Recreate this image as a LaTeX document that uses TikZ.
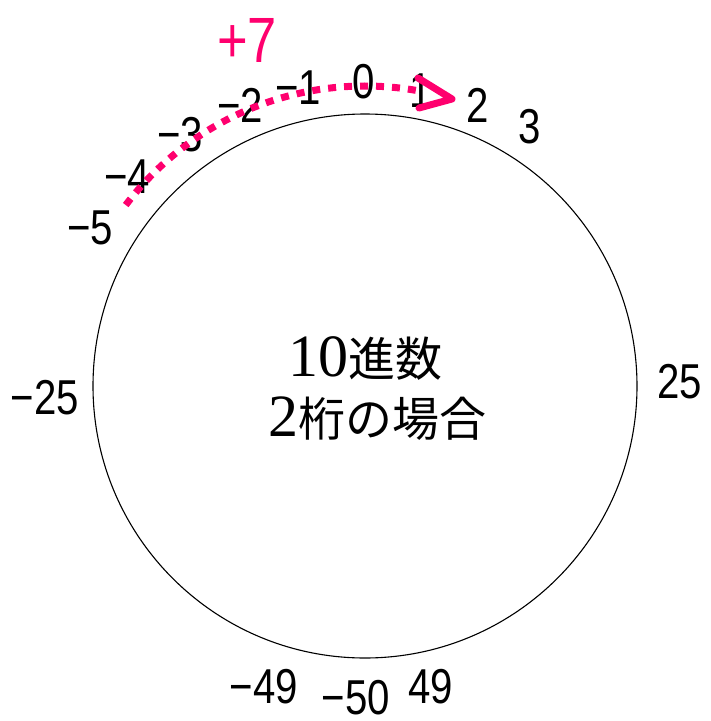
\documentclass[tikz,border=0pt]{standalone}
\usepackage{graphicx}
\usepackage{fontspec}
\setmainfont{Liberation Serif}
\newfontfamily\numfont{Liberation Sans}
\newfontfamily\cjkfont{Noto Sans CJK JP}
\definecolor{hotpink}{RGB}{255,0,110}
\newcommand{\nar}[1]{\scalebox{0.82}[1]{#1}}
\newcommand{\cj}[1]{{\cjkfont\fontsize{47}{47}\selectfont #1}}
\begin{document}
\begin{tikzpicture}[x=1pt,y=-1pt,
  num/.style={inner sep=0pt, font=\numfont\fontsize{49}{49}\selectfont},
  ctext/.style={inner sep=0pt, font=\fontsize{60}{60}\selectfont},
  jump/.style={hotpink, line width=7pt, dash pattern=on 8pt off 8pt},
  tiphead/.style={hotpink, line width=7pt, line cap=round, line join=round}]
\useasboundingbox (0,0) rectangle (711,721);
\node[circle, draw, line width=1.1pt, minimum size=544pt, inner sep=0pt] (ring) at (365,386) {};
% centre text
\node[ctext, anchor=base] (t1) at (365,376) {10\cj{進数}};
\node[ctext, anchor=base] (t2) at (377,436) {2\cj{桁の場合}};
% numbers
\node[num] (m5) at (90,228) {\nar{−5}};
\node[num] (m4) at (127,177) {\nar{−4}};
\node[num] (m3) at (180,135) {\nar{−3}};
\node[num] (m2) at (240,105) {\nar{−2}};
\node[num] (m1) at (298,88) {\nar{−1}};
\node[num] (z0) at (364,82) {\nar{0}};
\node[num] (p1) at (421,91) {\nar{1}};
\node[num] (p2) at (478,105) {\nar{2}};
\node[num] (p3) at (530,127) {\nar{3}};
\node[num] (m25) at (45,398) {\nar{−25}};
\node[num] (p25) at (680,382) {\nar{25}};
\node[num] (m49) at (264,687) {\nar{−49}};
\node[num] (m50) at (356,698) {\nar{−50}};
\node[num] (p49) at (431,687) {\nar{49}};
\node[num, hotpink, font=\numfont\fontsize{64}{64}\selectfont] (plus7) at (247,40) {\nar{+7}};
% jump arc
\coordinate (c) at (365,386);
\draw[jump] ([shift={(-142.9:300)}]c) arc[start angle=-142.9, end angle=-79, radius=300];
\coordinate (tip) at (452,99);
\coordinate (armA) at (418,78);
\coordinate (armB) at (419,108);
\draw[tiphead] (armA) -- (tip) -- (armB);
\end{tikzpicture}
\end{document}
